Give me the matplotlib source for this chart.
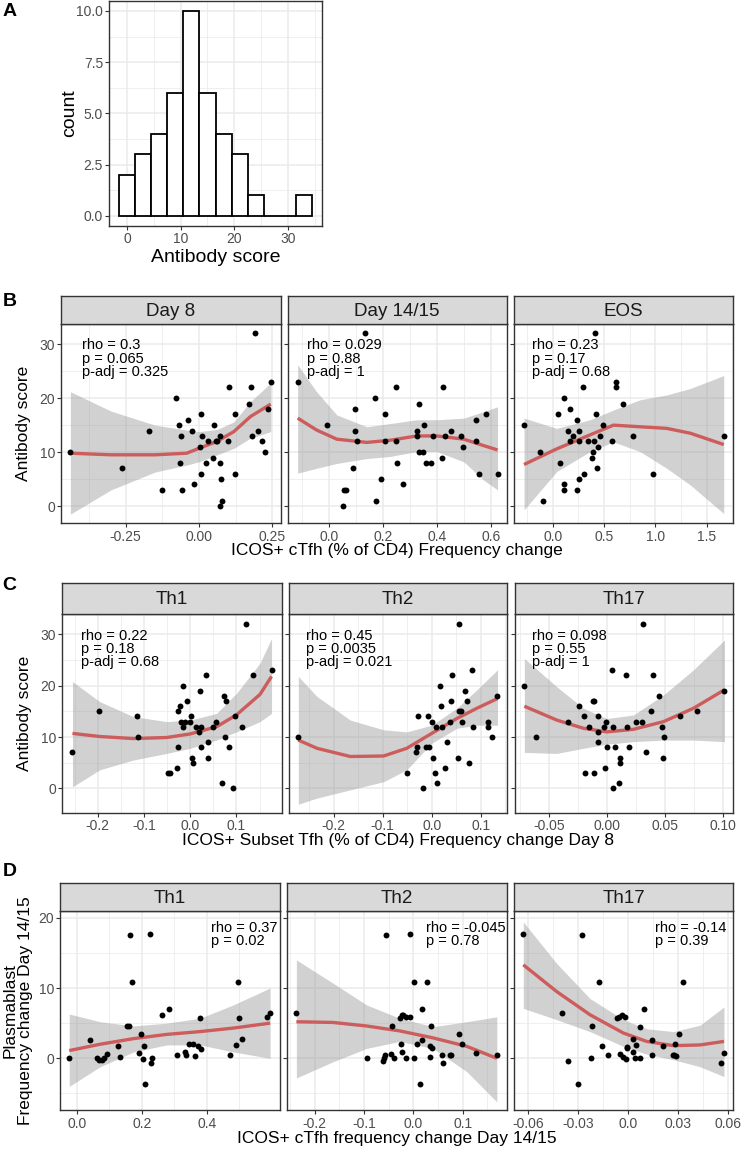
import matplotlib.pyplot as plt

plt.rcParams['font.family'] = ['Liberation Sans', 'DejaVu Sans']

# ---- panel A: histogram of antibody score (binwidth 3)
hist_centers = [0, 3, 6, 9, 12, 15, 18, 21, 24, 27, 30, 33]
hist_counts = [2, 3, 4, 6, 10, 6, 4, 3, 1, 0, 0, 1]

# ---- panel B: antibody score vs ICOS+ cTfh change
b_day8_x = [-0.439, -0.262, -0.171, -0.125, -0.080, -0.069, -0.061, -0.064, -0.059, -0.039,
            -0.024, -0.016, 0.008, 0.012, 0.005, 0.007, 0.023, 0.031, 0.049, 0.053,
            0.062, 0.072, 0.072, 0.076, 0.078, 0.072, 0.101, 0.100, 0.123, 0.124,
            0.191, 0.178, 0.170, 0.180, 0.202, 0.215, 0.225, 0.237, 0.245, 0.058]
b_day8_y = [10, 7, 14, 3, 20, 15, 13, 8, 3, 16, 14, 4, 17, 13, 11, 6, 8, 12, 9, 15,
            12, 13, 8, 5, 1, 0, 22, 12, 17, 6, 32, 22, 19, 13, 14, 12, 10, 18, 23, 12]
b_day8_sx = [-0.439, -0.3, -0.15, -0.042, 0.0, 0.062, 0.119, 0.176, 0.245]
b_day8_fit = [9.8, 9.5, 9.5, 9.8, 10.7, 12.0, 13.8, 16.6, 18.9]
b_day8_hi = [21.2, 17.6, 15.0, 14.1, 13.8, 14.2, 15.6, 19.4, 22.8]
b_day8_lo = [-1.5, 3.0, 6.3, 7.6, 8.2, 9.5, 10.7, 12.6, 13.8]

b_d1415_x = [-0.116, -0.009, 0.134, 0.053, 0.055, 0.062, 0.088, 0.097, 0.098, 0.105,
             0.171, 0.176, 0.192, 0.208, 0.208, 0.248, 0.247, 0.253, 0.276, 0.332,
             0.326, 0.326, 0.332, 0.348, 0.354, 0.359, 0.379, 0.385, 0.419, 0.424,
             0.431, 0.451, 0.491, 0.496, 0.544, 0.546, 0.555, 0.581, 0.625]
b_d1415_y = [23, 15, 32, 0, 3, 3, 7, 14, 18, 12, 20, 1, 5, 17, 12, 22, 12, 8, 4, 19,
             14, 13, 10, 10, 15, 8, 8, 13, 9, 22, 13, 14, 13, 11, 12, 16, 6, 17, 6]
b_d1415_sx = [-0.116, -0.046, 0.029, 0.140, 0.227, 0.326, 0.400, 0.500, 0.574, 0.625]
b_d1415_fit = [16.3, 14.1, 12.4, 11.8, 12.2, 13.0, 13.0, 12.4, 11.2, 10.4]
b_d1415_hi = [26.2, 21.2, 16.9, 14.7, 15.3, 16.0, 16.0, 16.3, 17.5, 18.4]
b_d1415_lo = [6.1, 7.0, 7.9, 8.8, 9.2, 10.1, 10.1, 8.2, 4.8, 3.0]

b_eos_x = [-0.279, -0.124, -0.097, 0.049, 0.074, 0.113, 0.113, 0.113, 0.149, 0.168,
           0.172, 0.201, 0.234, 0.240, 0.253, 0.253, 0.259, 0.295, 0.308, 0.347,
           0.386, 0.393, 0.399, 0.415, 0.422, 0.428, 0.444, 0.461, 0.487, 0.577,
           0.616, 0.620, 0.685, 0.785, 0.980, 1.665]
b_eos_y = [15, 10, 1, 17, 8, 20, 4, 3, 14, 18, 12, 13, 16, 3, 14, 12, 5, 22, 6, 12,
           9, 10, 12, 32, 17, 7, 11, 13, 15, 12, 23, 22, 19, 13, 6, 13]
b_eos_sx = [-0.279, 0.039, 0.364, 0.591, 0.850, 1.11, 1.34, 1.665]
b_eos_fit = [7.7, 10.6, 13.2, 15.0, 14.7, 14.4, 13.5, 11.4]
b_eos_hi = [16.3, 14.4, 16.0, 17.8, 19.7, 20.6, 21.8, 24.2]
b_eos_lo = [-0.7, 6.4, 10.1, 11.9, 10.1, 7.0, 3.9, -1.4]

# ---- panel C: antibody score vs ICOS+ subset Tfh change day 8
c_th1_x = [-0.255, -0.197, -0.116, -0.113, -0.049, -0.044, -0.029, -0.026, -0.026, -0.022,
           -0.019, -0.016, -0.016, -0.011, -0.007, -0.001, 0.002, 0.004, 0.006, 0.012,
           0.018, 0.022, 0.024, 0.024, 0.035, 0.038, 0.038, 0.050, 0.055, 0.069,
           0.074, 0.076, 0.078, 0.084, 0.093, 0.096, 0.113, 0.121, 0.136, 0.176]
c_th1_y = [7, 15, 14, 10, 3, 3, 4, 8, 15, 16, 13, 20, 12, 13, 17, 13, 14, 6, 5, 12,
           11, 19, 8, 12, 22, 9, 6, 12, 13, 1, 18, 10, 17, 8, 0, 14, 12, 32, 22, 23]
c_th1_sx = [-0.255, -0.196, -0.124, -0.051, 0.0, 0.057, 0.100, 0.151, 0.176]
c_th1_fit = [10.7, 10.1, 9.7, 9.9, 10.6, 12.0, 14.3, 18.3, 21.8]
c_th1_hi = [20.8, 16.9, 14.0, 13.0, 13.3, 14.6, 18.5, 24.4, 29.2]
c_th1_lo = [0.3, 3.6, 5.5, 6.8, 7.8, 9.4, 11.0, 13.0, 14.6]

c_th2_x = [-0.272, -0.051, -0.033, -0.031, -0.029, -0.017, -0.011, -0.008, -0.005, 0.000,
           0.002, 0.007, 0.009, 0.011, 0.017, 0.018, 0.020, 0.027, 0.031, 0.038,
           0.039, 0.041, 0.054, 0.055, 0.055, 0.060, 0.062, 0.068, 0.072, 0.075,
           0.082, 0.084, 0.114, 0.115, 0.122, 0.134]
c_th2_y = [10, 3, 7, 8, 14, 0, 8, 14, 8, 13, 6, 3, 12, 1, 20, 16, 12, 4, 9, 13,
           17, 22, 6, 32, 15, 15, 13, 19, 17, 5, 23, 12, 13, 12, 10, 18]
c_th2_sx = [-0.272, -0.234, -0.166, -0.098, -0.051, 0.0, 0.051, 0.092, 0.134]
c_th2_fit = [9.4, 7.8, 6.2, 6.3, 7.8, 10.7, 13.6, 15.6, 17.5]
c_th2_hi = [21.8, 17.9, 13.3, 11.4, 11.0, 12.3, 15.6, 19.2, 23.1]
c_th2_lo = [-3.1, -1.9, -0.3, 1.3, 3.6, 8.8, 11.7, 12.3, 12.3]

c_th17_x = [-0.0710, -0.0612, -0.0334, -0.0236, -0.0196, -0.0184, -0.0150, -0.0121, -0.0109, -0.0107,
            -0.0075, -0.0078, -0.0073, -0.0026, -0.0017, -0.0006, 0.0000, 0.0046, 0.0054, 0.0054,
            0.0074, 0.0106, 0.0115, 0.0118, 0.0169, 0.0178, 0.0192, 0.0250, 0.0304, 0.0316,
            0.0336, 0.0379, 0.0399, 0.0451, 0.0480, 0.0483, 0.0491, 0.0632, 0.0779, 0.1014]
c_th17_y = [20, 10, 13, 16, 14, 3, 12, 17, 17, 3, 11, 9, 14, 12, 4, 13, 8, 23, 12, 0,
            8, 1, 6, 5, 22, 12, 8, 13, 13, 32, 7, 15, 22, 18, 12, 6, 10, 14, 15, 19]
c_th17_sx = [-0.0710, -0.0431, -0.0201, 0.0, 0.0230, 0.0489, 0.0747, 0.1014]
c_th17_fit = [16.0, 13.3, 11.7, 11.0, 11.5, 13.0, 15.6, 19.2]
c_th17_hi = [25.3, 19.8, 15.6, 13.6, 14.3, 18.2, 23.1, 28.9]
c_th17_lo = [7.0, 6.8, 7.8, 8.6, 9.1, 9.4, 9.4, 9.1]

# ---- panel D: plasmablast change vs ICOS+ cTfh change day 14/15
d_th1_x = [-0.023, 0.041, 0.062, 0.068, 0.077, 0.085, 0.092, 0.126, 0.134, 0.154,
           0.162, 0.163, 0.169, 0.191, 0.198, 0.203, 0.207, 0.211, 0.225, 0.228,
           0.233, 0.262, 0.285, 0.309, 0.334, 0.337, 0.345, 0.357, 0.363, 0.372,
           0.379, 0.383, 0.472, 0.489, 0.495, 0.498, 0.510, 0.586, 0.595]
d_th1_y = [0.0, 2.6, 0.1, -0.2, -0.2, 0.0, 0.6, 1.7, 0.2, 4.6,
           4.6, 17.6, 10.8, 0.8, 3.4, -0.1, 1.7, -3.7, 17.7, -0.7,
           0.1, 6.1, 7.0, 0.4, 0.9, 0.5, 2.1, 2.0, 0.3, 1.7,
           5.7, 1.3, 0.5, 1.9, 10.8, 5.8, 2.8, 5.9, 6.4]
d_th1_sx = [-0.023, 0.072, 0.175, 0.277, 0.380, 0.482, 0.595]
d_th1_fit = [1.1, 2.0, 2.8, 3.4, 3.8, 4.3, 5.0]
d_th1_hi = [6.3, 5.2, 4.6, 5.0, 5.7, 7.6, 10.0]
d_th1_lo = [-4.0, -1.2, 0.9, 1.9, 1.9, 0.9, 0.0]

d_th2_x = [-0.237, -0.093, -0.062, -0.058, -0.055, -0.059, -0.046, -0.043, -0.039, -0.028,
           -0.025, -0.024, -0.024, -0.021, -0.015, -0.014, -0.007, -0.006, 0.002, 0.002,
           0.008, 0.013, 0.018, 0.018, 0.028, 0.033, 0.034, 0.035, 0.037, 0.058,
           0.059, 0.075, 0.076, 0.093, 0.099, 0.127, 0.169]
d_th2_y = [6.4, 0.1, -0.4, 0.4, 17.6, 0.0, 0.6, 4.6, 0.0, 5.7,
           2.0, 6.1, 0.9, 6.2, 0.0, 5.9, 5.9, 17.7, 10.8, 0.0,
           2.1, -3.7, 7.0, 2.6, 10.8, 0.2, 1.7, 4.6, 1.4, 0.5,
           -0.6, 0.5, 0.4, 3.4, 2.0, 0.8, 0.4]
d_th2_sx = [-0.237, -0.163, -0.095, -0.028, 0.040, 0.108, 0.169]
d_th2_fit = [5.2, 5.1, 4.6, 3.9, 2.9, 1.7, 0.0]
d_th2_hi = [14.0, 10.7, 7.6, 5.7, 4.5, 5.2, 5.9]
d_th2_lo = [-2.8, -0.5, 1.4, 2.4, 1.4, -1.9, -6.2]

d_th17_x = [-0.0630, -0.0396, -0.0360, -0.0304, -0.0280, -0.0226, -0.0220, -0.0176, -0.0160, -0.0120,
            -0.0066, -0.0054, -0.0050, -0.0036, -0.0030, -0.0022, -0.0016, -0.0010, -0.0006, 0.0026,
            0.0030, 0.0042, 0.0044, 0.0068, 0.0070, 0.0092, 0.0142, 0.0144, 0.0210, 0.0266,
            0.0274, 0.0280, 0.0284, 0.0302, 0.0326, 0.0558, 0.0574]
d_th17_y = [17.7, 6.4, -0.4, -3.7, 17.6, 0.0, 4.6, 10.8, 1.7, 0.4,
            5.7, 5.9, 0.6, 6.1, 0.2, 5.9, -0.1, 1.4, 1.6, 2.8,
            0.9, 0.1, 1.9, 4.5, 0.0, 7.0, 2.6, 0.5, 1.7, 0.4,
            0.5, 2.0, 0.3, 3.4, 10.8, -0.7, 0.8]
d_th17_sx = [-0.063, -0.043, -0.023, -0.003, 0.011, 0.027, 0.043, 0.0574]
d_th17_fit = [13.3, 9.5, 6.2, 3.6, 2.4, 1.8, 1.9, 2.4]
d_th17_hi = [19.4, 13.5, 8.5, 5.5, 4.2, 3.8, 4.7, 7.3]
d_th17_lo = [7.1, 5.5, 3.8, 1.7, 0.6, -0.2, -1.2, -2.6]

# ---- annotations and tick labels
b_titles = ['Day 8', 'Day 14/15', 'EOS']
b_notes = ['rho = 0.3\np = 0.065\np-adj = 0.325', 'rho = 0.029\np = 0.88\np-adj = 1',
           'rho = 0.23\np = 0.17\np-adj = 0.68']
c_titles = ['Th1', 'Th2', 'Th17']
c_notes = ['rho = 0.22\np = 0.18\np-adj = 0.68', 'rho = 0.45\np = 0.0035\np-adj = 0.021',
           'rho = 0.098\np = 0.55\np-adj = 1']
d_titles = ['Th1', 'Th2', 'Th17']
d_notes = ['rho = 0.37\np = 0.02', 'rho = -0.045\np = 0.78', 'rho = -0.14\np = 0.39']

b_xticks = [[-0.25, 0.0, 0.25], [0.0, 0.2, 0.4, 0.6], [0.0, 0.5, 1.0, 1.5]]
b_xlabels = [['-0.25', '0.00', '0.25'], ['0.0', '0.2', '0.4', '0.6'], ['0.0', '0.5', '1.0', '1.5']]
c_xticks = [[-0.2, -0.1, 0.0, 0.1], [-0.2, -0.1, 0.0, 0.1], [-0.05, 0.0, 0.05, 0.10]]
c_xlabels = [['-0.2', '-0.1', '0.0', '0.1'], ['-0.2', '-0.1', '0.0', '0.1'],
             ['-0.05', '0.00', '0.05', '0.10']]
d_xticks = [[0.0, 0.2, 0.4], [-0.2, -0.1, 0.0, 0.1], [-0.06, -0.03, 0.0, 0.03, 0.06]]
d_xlabels = [['0.0', '0.2', '0.4'], ['-0.2', '-0.1', '0.0', '0.1'],
             ['-0.06', '-0.03', '0.0', '0.03', '0.06']]

W, H = 747, 1151
GRID = '#EBEBEB'
DARK = '#333333'
TICKC = '#4D4D4D'
TICK_FS = 10
NOTE_FS = 10.5
STRIP_FS = 13.5
TITLE_FS = 12.5

fig = plt.figure(figsize=(W / 100, H / 100), dpi=100)


def box(l, t, r, b):
    return [l / W, 1 - b / H, (r - l) / W, (b - t) / H]


def minors(ticks, lim):
    step = ticks[1] - ticks[0]
    vals = [ticks[0] - step / 2 + i * step for i in range(-1, len(ticks) + 2)]
    return [v for v in vals if lim[0] <= v <= lim[1]]


def style(ax, xticks, xlabels, yticks, ylabels, xlim, ylim, fs):
    ax.set_xlim(xlim)
    ax.set_ylim(ylim)
    ax.set_xticks(xticks)
    ax.set_xticklabels(xlabels)
    ax.set_xticks(minors(xticks, xlim), minor=True)
    ax.set_yticks(yticks)
    ax.set_yticks(minors(yticks, ylim), minor=True)
    if ylabels is None:
        ax.set_yticklabels([])
        ax.tick_params(axis='y', which='major', length=0)
    else:
        ax.set_yticklabels(ylabels)
    ax.grid(which='major', color=GRID, lw=1.1)
    ax.grid(which='minor', color=GRID, lw=0.55)
    ax.set_axisbelow(True)
    for s in ax.spines.values():
        s.set_color(DARK)
        s.set_linewidth(1.0)
    ax.tick_params(which='major', length=3, width=0.8, color=DARK,
                   labelcolor=TICKC, labelsize=fs, pad=1.5)
    ax.tick_params(which='minor', length=0)


def facet(pbox, sbox, title, xs, ys, sx, fit, lo, hi, xlim, ylim, xticks, xlabels,
          yticks, ylabels, note, note_pos):
    ax = fig.add_axes(box(*pbox))
    ax.fill_between(sx, lo, hi, color='#999999', alpha=0.45, lw=0, zorder=2)
    ax.plot(sx, fit, color='#CD5C5C', lw=2.4, zorder=3, solid_capstyle='butt')
    ax.scatter(xs, ys, s=18, color='black', linewidths=0, zorder=4)
    style(ax, xticks, xlabels, yticks, ylabels, xlim, ylim, TICK_FS)
    ax.text(note_pos[0], note_pos[1], note, transform=ax.transAxes, ha='left',
            va='top', fontsize=NOTE_FS, linespacing=0.95, color='black')
    st = fig.add_axes(box(*sbox))
    st.set_facecolor('#D9D9D9')
    st.set_xticks([])
    st.set_yticks([])
    for s in st.spines.values():
        s.set_color(DARK)
        s.set_linewidth(1.0)
    st.text(0.5, 0.45, title, transform=st.transAxes, ha='center', va='center',
            fontsize=STRIP_FS, color='#1A1A1A')
    return ax


# ---- A
axA = fig.add_axes(box(109.3, 0.7, 321.7, 226))
axA.bar(hist_centers, hist_counts, width=3, facecolor='white', edgecolor='black',
        linewidth=1.3, zorder=3)
style(axA, [0, 10, 20, 30], ['0', '10', '20', '30'], [0, 2.5, 5, 7.5, 10],
      ['0.0', '2.5', '5.0', '7.5', '10.0'], (-3.3, 36.3), (-0.5, 10.5), 10)
fig.text(215.5 / W, 1 - 258 / H, 'Antibody score', ha='center', va='center', fontsize=14)
fig.text(70 / W, 1 - 113 / H, 'count', ha='center', va='center', fontsize=14, rotation=90)

# ---- B
b_x = [(61.3, 280.7), (287.7, 506.7), (514.3, 733.3)]
b_xlim = [(-0.47, 0.279), (-0.153, 0.659), (-0.374, 1.758)]
b_data = [(b_day8_x, b_day8_y, b_day8_sx, b_day8_fit, b_day8_lo, b_day8_hi),
          (b_d1415_x, b_d1415_y, b_d1415_sx, b_d1415_fit, b_d1415_lo, b_d1415_hi),
          (b_eos_x, b_eos_y, b_eos_sx, b_eos_fit, b_eos_lo, b_eos_hi)]
b_notex = [0.093, 0.087, 0.082]
for i in range(3):
    l, r = b_x[i]
    facet((l, 324.3, r, 523.3), (l, 296, r, 324.3), b_titles[i], *b_data[i],
          b_xlim[i], (-3.2, 33.7), b_xticks[i], b_xlabels[i], [0, 10, 20, 30],
          ['0', '10', '20', '30'] if i == 0 else None, b_notes[i], (b_notex[i], 0.93))
fig.text(397.3 / W, 1 - 551 / H, 'ICOS+ cTfh (% of CD4) Frequency change',
         ha='center', va='center', fontsize=TITLE_FS)
fig.text(24 / W, 1 - 423.8 / H, 'Antibody score', ha='center', va='center',
         fontsize=TITLE_FS, rotation=90)

# ---- C
c_x = [(62.3, 281.7), (289, 507.3), (515.3, 733.3)]
c_xlim = [(-0.277, 0.198), (-0.291, 0.154), (-0.0788, 0.109)]
c_data = [(c_th1_x, c_th1_y, c_th1_sx, c_th1_fit, c_th1_lo, c_th1_hi),
          (c_th2_x, c_th2_y, c_th2_sx, c_th2_fit, c_th2_lo, c_th2_hi),
          (c_th17_x, c_th17_y, c_th17_sx, c_th17_fit, c_th17_lo, c_th17_hi)]
c_notex = [0.085, 0.076, 0.075]
for i in range(3):
    l, r = c_x[i]
    facet((l, 614, r, 812.7), (l, 582.7, r, 614), c_titles[i], *c_data[i],
          c_xlim[i], (-4.75, 33.97), c_xticks[i], c_xlabels[i], [0, 10, 20, 30],
          ['0', '10', '20', '30'] if i == 0 else None, c_notes[i], (c_notex[i], 0.927))
fig.text(398 / W, 1 - 841 / H, 'ICOS+ Subset Tfh (% of CD4) Frequency change Day 8',
         ha='center', va='center', fontsize=TITLE_FS)
fig.text(25 / W, 1 - 713 / H, 'Antibody score', ha='center', va='center',
         fontsize=TITLE_FS, rotation=90)

# ---- D
d_x = [(60.3, 280), (287, 506.7), (514.3, 733.3)]
d_xlim = [(-0.0505, 0.6255), (-0.256, 0.189), (-0.0684, 0.063)]
d_data = [(d_th1_x, d_th1_y, d_th1_sx, d_th1_fit, d_th1_lo, d_th1_hi),
          (d_th2_x, d_th2_y, d_th2_sx, d_th2_fit, d_th2_lo, d_th2_hi),
          (d_th17_x, d_th17_y, d_th17_sx, d_th17_fit, d_th17_lo, d_th17_hi)]
d_notex = [0.685, 0.631, 0.642]
for i in range(3):
    l, r = d_x[i]
    facet((l, 910.7, r, 1110.3), (l, 882.7, r, 910.7), d_titles[i], *d_data[i],
          d_xlim[i], (-7.4, 21.0), d_xticks[i], d_xlabels[i], [0, 10, 20],
          ['0', '10', '20'] if i == 0 else None, d_notes[i], (d_notex[i], 0.95))
fig.text(397 / W, 1 - 1138 / H, 'ICOS+ cTfh frequency change Day 14/15',
         ha='center', va='center', fontsize=TITLE_FS)
fig.text(18 / W, 1 - 1010.5 / H, 'Plasmablast\nFrequency change Day 14/15',
         ha='center', va='center', fontsize=TITLE_FS, rotation=90, linespacing=1.0)

# ---- panel letters
for letter, (px, py) in zip('ABCD', [(10, 12), (9.3, 301.7), (9.3, 585), (9.3, 871.7)]):
    fig.text(px / W, 1 - py / H, letter, ha='center', va='center', fontsize=14,
             fontweight='bold')

fig.savefig('out.png', dpi=100)
